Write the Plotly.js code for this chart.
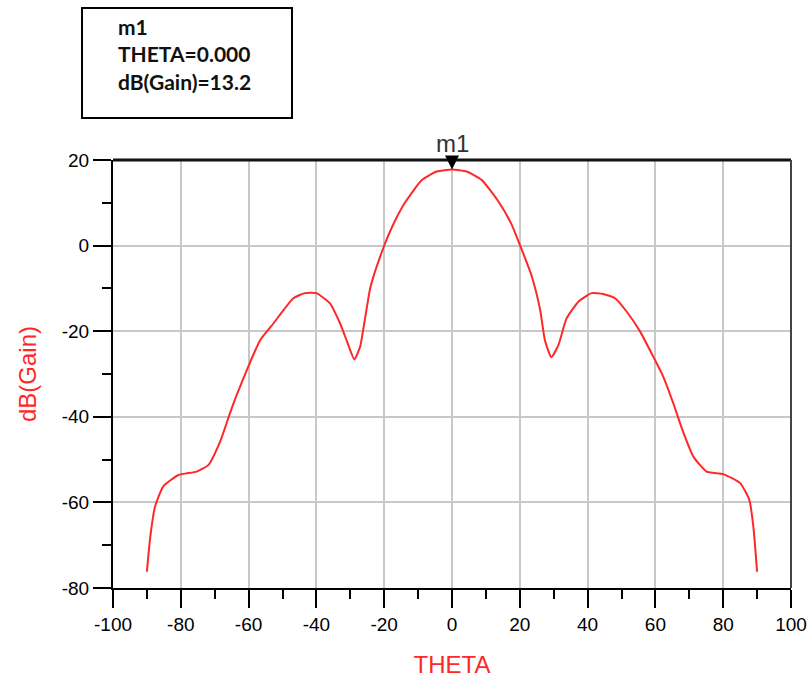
<!DOCTYPE html>
<html>
<head>
<meta charset="utf-8">
<script src="https://cdn.plot.ly/plotly-3.0.1.min.js"></script>
<style>
html,body{margin:0;padding:0;background:#fff;}
#chart{width:811px;height:684px;}
</style>
</head>
<body>
<div id="chart"></div>
<script>
// Curve data
const theta = [-90, -89, -87.6, -85.2, -80.7, -75.3, -71.9, -68.4, -65.5, -63.5, -60.1, -56.6, -52.7, -46.8, -43.4, -40, -36, -33, -31.1, -28.8, -27.1, -26.2, -24.2, -23.2, -20.7, -19.3, -16.8, -13.9, -8.9, -4.5, 0, 4.3, 8.8, 13.7, 17.6, 20.1, 21, 23.5, 26, 27.4, 29.3, 31.4, 33.8, 37.3, 41.2, 44.6, 48.1, 51.5, 55.5, 59.4, 62.3, 65.3, 67.8, 71.2, 75.1, 80, 85, 87.7, 88.9, 90];
const gain = [-76.2, -68, -61, -56.3, -53.6, -52.8, -51.3, -45.8, -39.2, -34.9, -28.3, -22.1, -18.2, -12.3, -11.1, -11.1, -13.5, -18.2, -22.1, -26.6, -23.6, -19.7, -10.2, -7.3, -1.5, 1.4, 5.8, 10.0, 15.3, 17.3, 17.8, 17.3, 15.3, 10.3, 4.9, 0, -1.8, -7.1, -15, -22.1, -26.1, -23.2, -17, -13.1, -11.1, -11.3, -12.3, -15.4, -20.1, -26, -30.6, -36.9, -42.7, -49.3, -52.8, -53.4, -55.5, -59.4, -65.7, -76.2];

// Marker readout
const markerName = "m1";
const markerTheta = 0;
const markerLines = ["m1", "THETA=0.000", "dB(Gain)=13.2"];

// Axis ticks
const xTicks = [-100, -80, -60, -40, -20, 0, 20, 40, 60, 80, 100];
const yTicks = [-80, -60, -40, -20, 0, 20];

const markerGain = gain[theta.indexOf(markerTheta)];

const red = "rgb(255,40,40)";
const tickFont = {family: "Liberation Sans, Arial, sans-serif", size: 19, color: "#000"};

const traces = [{
  x: theta, y: gain, type: "scatter", mode: "lines",
  line: {color: red, width: 2, shape: "spline", smoothing: 0.5},
  hoverinfo: "skip", showlegend: false
}];

const layout = {
  width: 811, height: 684,
  margin: {l: 113, r: 20, t: 160, b: 96},
  paper_bgcolor: "#fff", plot_bgcolor: "#fff",
  showlegend: false,
  xaxis: {
    range: [-100, 100], tickvals: xTicks, ticktext: xTicks.map(String),
    ticks: "outside", ticklen: 18, tickwidth: 2, tickcolor: "#000",
    showline: true, linecolor: "#000", linewidth: 2,
    showgrid: true, gridcolor: "#c8c8c8", gridwidth: 2,
    zeroline: false, tickfont: tickFont,
    minor: {dtick: 10, tick0: 0, ticks: "outside", ticklen: 9, tickwidth: 2, tickcolor: "#000", showgrid: false},
    title: {text: "THETA", font: {family: "Liberation Sans, Arial, sans-serif", size: 24, color: red}, standoff: 22},
    fixedrange: true
  },
  yaxis: {
    range: [-80, 20], tickvals: yTicks, ticktext: yTicks.map(String),
    ticks: "outside", ticklen: 18, tickwidth: 2, tickcolor: "#000",
    showline: true, linecolor: "#000", linewidth: 2,
    showgrid: true, gridcolor: "#c8c8c8", gridwidth: 2,
    zeroline: false, tickfont: tickFont,
    minor: {dtick: 10, tick0: 0, ticks: "outside", ticklen: 9, tickwidth: 2, tickcolor: "#000", showgrid: false},
    title: {text: "dB(Gain)", font: {family: "Liberation Sans, Arial, sans-serif", size: 24, color: red}, standoff: 18},
    fixedrange: true
  },
  shapes: [
    // top frame line
    {type: "line", xref: "paper", yref: "paper", x0: 0, x1: 1, y0: 1, y1: 1, line: {color: "#111", width: 3}},
    // right frame line
    {type: "line", xref: "paper", yref: "paper", x0: 1, x1: 1, y0: 0, y1: 1, line: {color: "#444", width: 2}},
    // marker readout box
    {type: "rect", xref: "paper", yref: "paper", x0: -0.0457, x1: 0.264, y0: 1.098, y1: 1.355, line: {color: "#000", width: 2}, fillcolor: "#fff"}
  ],
  annotations: [
    {xref: "paper", yref: "paper", x: 0.004, y: 1.345, xanchor: "left", yanchor: "top", align: "left",
     showarrow: false, text: markerLines.map(s => "<b>" + s + "</b>").join("<br>"),
     font: {family: "Lato, Open Sans, sans-serif", size: 21, color: "#111"}},
    {x: markerTheta, y: markerGain, xref: "x", yref: "y",
     showarrow: true, arrowhead: 2, arrowsize: 2.8, arrowwidth: 1, arrowcolor: "#000",
     ax: 0, ay: -26, standoff: 0, text: markerName,
     font: {family: "Liberation Sans, Arial, sans-serif", size: 24, color: "#333"}}
  ]
};

Plotly.newPlot("chart", traces, layout, {staticPlot: true, displayModeBar: false});
</script>
</body>
</html>
